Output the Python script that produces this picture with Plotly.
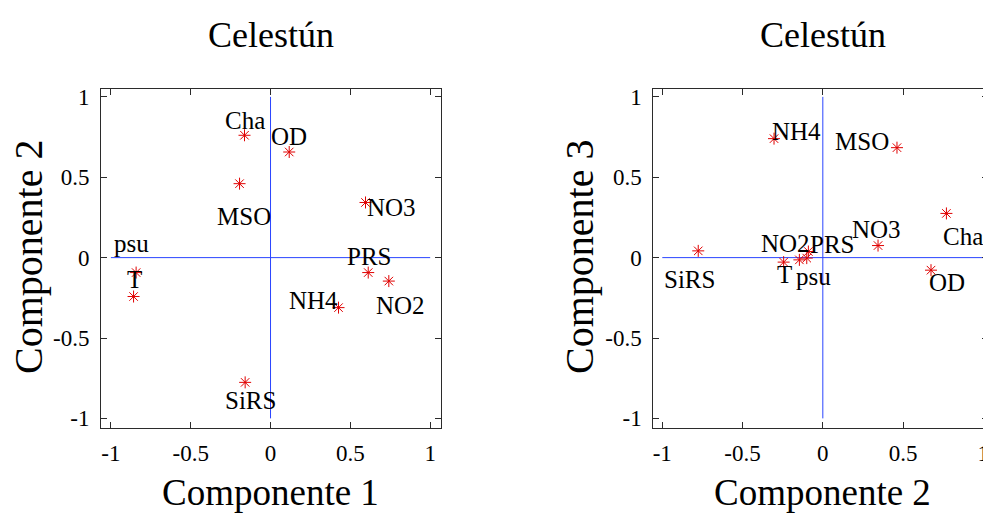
import plotly.graph_objects as go

# ---------------- data ----------------
variables = ["Cha", "OD", "MSO", "NO3", "PRS", "NO2", "NH4", "SiRS", "psu", "T"]

# Panel 1: Componente 1 (x) vs Componente 2 (y)
comp1_p1 = [-0.163, 0.117, -0.194, 0.595, 0.612, 0.741, 0.426, -0.159, -0.842, -0.858]
comp2_p1 = [0.761, 0.657, 0.460, 0.343, -0.093, -0.146, -0.311, -0.776, -0.093, -0.242]

# Panel 2: Componente 2 (x) vs Componente 3 (y)
comp2_p2 = [0.770, 0.674, 0.462, 0.344, -0.090, -0.100, -0.304, -0.776, -0.146, -0.244]
comp3_p2 = [0.275, -0.078, 0.684, 0.075, 0.038, -0.003, 0.740, 0.042, -0.014, -0.028]

tick_vals = [-1, -0.5, 0, 0.5, 1]
tick_text = ["-1", "-0.5", "0", "0.5", "1"]
axis_span = [-1, 1]

panel_title = "Celestún"
x_titles = ["Componente 1", "Componente 2"]
y_titles = ["Componente 2", "Componente 3"]

# label offsets (data units) relative to each point: (dx, dy)
label_off_p1 = [(0.004, 0.094), (-0.004, 0.097), (0.025, -0.204), (0.165, -0.029),
                (0.002, 0.100), (0.071, -0.152), (-0.157, 0.044), (0.031, -0.110),
                (-0.030, 0.183), (0.004, 0.104)]
label_off_p2 = [(0.105, -0.143), (0.097, -0.075), (-0.219, 0.040), (-0.010, 0.100),
                (0.145, 0.042), (-0.135, 0.093), (0.140, 0.045), (-0.052, -0.176),
                (0.086, -0.104), (0.008, -0.075)]

# ---------------- figure ----------------
W, H = 991, 516
PAGE_OFFSET = 8  # default body margin of the html page
FONT = "Liberation Serif, Times New Roman, serif"
RED = "#e00000"
BLUE = "#2a45ff"

fig = go.Figure()

panels = [
    dict(x=comp1_p1, y=comp2_p1, off=label_off_p1, xa="x", ya="y"),
    dict(x=comp2_p2, y=comp3_p2, off=label_off_p2, xa="x2", ya="y2"),
]

for p in panels:
    fig.add_trace(go.Scatter(
        x=p["x"], y=p["y"], mode="markers", xaxis=p["xa"], yaxis=p["ya"],
        marker=dict(symbol="asterisk-open", size=10, color=RED,
                    line=dict(color=RED, width=1)),
        showlegend=False, hoverinfo="text", text=variables))
    # cross lines through the origin
    fig.add_shape(type="line", xref=p["xa"], yref=p["ya"],
                  x0=axis_span[0], x1=axis_span[1], y0=0, y1=0,
                  line=dict(color=BLUE, width=1), layer="below")
    fig.add_shape(type="line", xref=p["xa"], yref=p["ya"],
                  x0=0, x1=0, y0=axis_span[0], y1=axis_span[1],
                  line=dict(color=BLUE, width=1), layer="below")
    for name, xv, yv, (dx, dy) in zip(variables, p["x"], p["y"], p["off"]):
        fig.add_annotation(x=xv + dx, y=yv + dy, xref=p["xa"], yref=p["ya"],
                           text=name, showarrow=False, xanchor="center", yanchor="middle",
                           font=dict(family=FONT, size=25, color="black"))

def px_x(v):
    return (v - PAGE_OFFSET) / W

def px_y(v):
    return 1 - (v - PAGE_OFFSET) / H

axis_common = dict(
    showline=True, linecolor="#2b2b2b", linewidth=1, mirror="ticks",
    ticks="inside", ticklen=6, tickcolor="#2b2b2b", tickwidth=1,
    tickvals=tick_vals, ticktext=tick_text, showgrid=False, zeroline=False,
    tickfont=dict(family=FONT, size=23, color="black"), fixedrange=True,
    automargin=False,
)

fig.update_layout(
    width=W, height=H, margin=dict(l=0, r=0, t=0, b=0, autoexpand=False),
    paper_bgcolor="white", plot_bgcolor="white",
    xaxis=dict(domain=[px_x(101), px_x(440.7)], range=[-1.062, 1.066], anchor="y",
               ticklabelstandoff=5, **axis_common),
    yaxis=dict(domain=[px_y(427.7), px_y(89.3)], range=[-1.058, 1.047], anchor="x",
               ticklabelstandoff=6, **axis_common),
    xaxis2=dict(domain=[px_x(653.3), px_x(988)], range=[-1.056, 1.029], anchor="y2",
                ticklabelstandoff=5, **axis_common),
    yaxis2=dict(domain=[px_y(427.7), px_y(89.3)], range=[-1.058, 1.047], anchor="x2",
                ticklabelstandoff=6, **axis_common),
)

# panel titles and axis titles
title_cx = [271, 823]
xt_cx = [270, 822]
yt_cx = [29, 580]
for i in range(2):
    fig.add_annotation(x=px_x(title_cx[i]), y=px_y(35), xref="paper", yref="paper",
                       text=panel_title, showarrow=False, xanchor="center", yanchor="middle",
                       font=dict(family=FONT, size=36, color="black"))
    fig.add_annotation(x=px_x(xt_cx[i]), y=px_y(492), xref="paper", yref="paper",
                       text=x_titles[i], showarrow=False, xanchor="center", yanchor="middle",
                       font=dict(family=FONT, size=37, color="black"))
    fig.add_annotation(x=px_x(yt_cx[i]), y=px_y(257), xref="paper", yref="paper",
                       text=y_titles[i], showarrow=False, textangle=-90,
                       xanchor="center", yanchor="middle",
                       font=dict(family=FONT, size=40, color="black"))

fig.write_html("out.html")
